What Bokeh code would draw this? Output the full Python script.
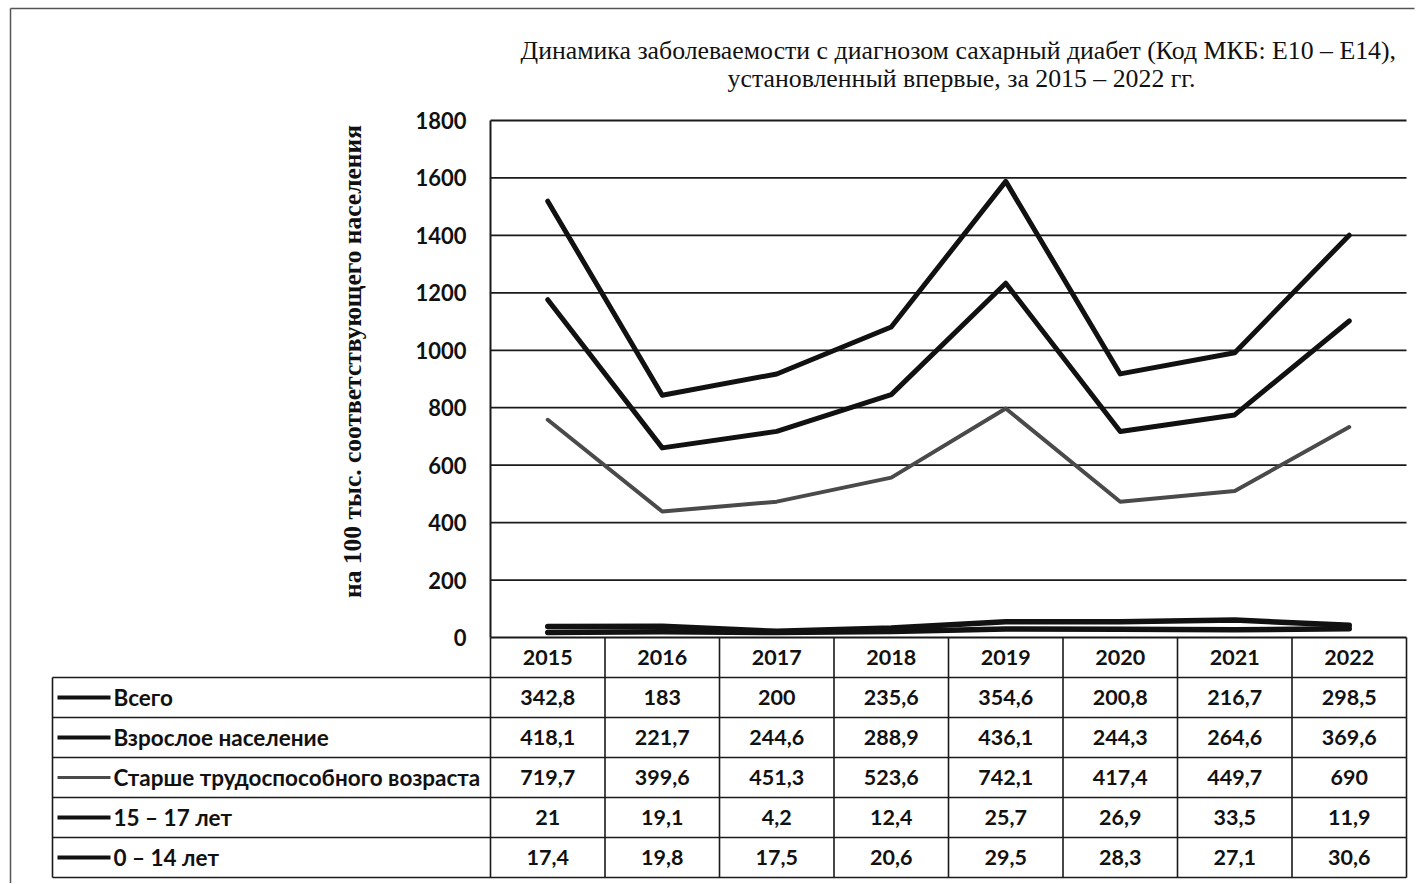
import numpy as np
from bokeh.plotting import figure
from bokeh.models import Range1d, LinearAxis, FixedTicker
from bokeh.core.properties import value
from bokeh.embed import file_html
from bokeh.resources import INLINE

# ---------------- data ----------------
years = ["2015", "2016", "2017", "2018", "2019", "2020", "2021", "2022"]
series_names = ["Всего", "Взрослое население", "Старше трудоспособного возраста",
                "15 – 17 лет", "0 – 14 лет"]
vsego = [342.8, 183, 200, 235.6, 354.6, 200.8, 216.7, 298.5]
vzrosloe = [418.1, 221.7, 244.6, 288.9, 436.1, 244.3, 264.6, 369.6]
starshe = [719.7, 399.6, 451.3, 523.6, 742.1, 417.4, 449.7, 690]
age_15_17 = [21, 19.1, 4.2, 12.4, 25.7, 26.9, 33.5, 11.9]
age_0_14 = [17.4, 19.8, 17.5, 20.6, 29.5, 28.3, 27.1, 30.6]
y_ticks = [0, 200, 400, 600, 800, 1000, 1200, 1400, 1600, 1800]
title_lines = ["Динамика заболеваемости с диагнозом сахарный диабет  (Код МКБ: E10 – E14),",
               "установленный впервые, за 2015 – 2022 гг."]
y_label = "на 100 тыс. соответствующего населения"

table_values = [vsego, vzrosloe, starshe, age_15_17, age_0_14]

# ---------------- layout helpers (pixel -> data) ----------------
W, H = 1416, 883
PX0 = 490.0          # x of the value axis
COLW = 114.5         # width of one year column
ORIGIN_Y = 637.0     # y pixel of value 0
K = 517.0 / 1800.0   # pixels per value unit
ROWH = 40.0


def ux(x):
    return (x - PX0) / COLW


def vy(y):
    return (ORIGIN_Y - y) / K


p = figure(width=W, height=H, output_backend="svg", toolbar_location=None,
           x_range=Range1d(ux(0), ux(W)), y_range=Range1d(vy(H), vy(0)),
           x_axis_type=None, y_axis_type=None, min_border=0,
           outline_line_color=None, background_fill_color="white",
           border_fill_color="white")

ncol = len(years)
xc = np.arange(ncol) + 0.5

# outer chart border
p.segment(x0=[ux(10), ux(10)], y0=[vy(8), vy(8)], x1=[ux(10), ux(1414)], y1=[vy(H), vy(8)],
          line_color="#555555", line_width=1.5)

# horizontal grid lines
p.segment(x0=[0] * len(y_ticks), x1=[ncol] * len(y_ticks), y0=y_ticks, y1=y_ticks,
          line_color="#1a1a1a", line_width=1.8)

# value axis
yax = LinearAxis(fixed_location=0, bounds=(0, 1800), ticker=FixedTicker(ticks=y_ticks),
                 axis_line_color="#1a1a1a", axis_line_width=2,
                 major_tick_line_color=None, minor_tick_line_color=None,
                 major_tick_out=0, major_tick_in=0, major_label_standoff=24,
                 major_label_text_font="Lato", major_label_text_font_size="22px",
                 major_label_text_font_style="bold", major_label_text_color="#111111")
p.add_layout(yax, "left")

# axis title
p.text(x=[ux(352)], y=[vy(361)], text=[y_label], angle=np.pi / 2,
       text_font=value("Liberation Serif"), text_font_size="25.5px", text_font_style="bold",
       text_align="center", text_baseline="middle", text_color="#111111")

# chart title
p.text(x=[ux(961)] * 2, y=[vy(50), vy(78)], text=title_lines,
       text_font=value("Liberation Serif"), text_font_size="25.8px",
       text_align="center", text_baseline="middle", text_color="#111111")

# stacked lines (0-14 at bottom, then 15-17, older, adults, total)
stack_order = [age_0_14, age_15_17, starshe, vzrosloe, vsego]
cum = np.cumsum(np.array(stack_order, dtype=float), axis=0)
styles = [("#111111", 5.5), ("#111111", 5.5), ("#4a4a4a", 4), ("#111111", 5), ("#111111", 5)]
for vals, (col, lw) in zip(cum, styles):
    p.line(x=xc, y=vals, line_color=col, line_width=lw, line_join="round", line_cap="round")

# ---------------- data table ----------------
R = ROWH / K
nrows = len(series_names)
tbl_left = ux(52)
bottom = -(nrows + 1) * R
# horizontal borders
hy = [-(i + 1) * R for i in range(nrows + 1)]
p.segment(x0=[tbl_left] * len(hy), x1=[ncol] * len(hy), y0=hy, y1=hy,
          line_color="#1a1a1a", line_width=1.6)
# vertical borders
vx = list(range(0, ncol + 1))
p.segment(x0=vx, x1=vx, y0=[0] * len(vx), y1=[bottom] * len(vx),
          line_color="#1a1a1a", line_width=1.6)
p.segment(x0=[tbl_left], x1=[tbl_left], y0=[-R], y1=[bottom],
          line_color="#1a1a1a", line_width=1.6)

TFONT = value("Lato")
NSIZE = "21.5px"
LSIZE = "22.5px"
# header (years)
p.text(x=xc, y=[-R / 2] * ncol, text=years, text_font=TFONT, text_font_size=NSIZE,
       text_font_style="bold", text_align="center", text_baseline="middle", text_color="#111111")

key_colors = ["#111111", "#111111", "#4a4a4a", "#111111", "#111111"]
key_widths = [4, 4, 3, 4, 4]
for i, (name, vals) in enumerate(zip(series_names, table_values)):
    yc = -(i + 1.5) * R
    labels = [f"{v:g}".replace(".", ",") for v in vals]
    p.text(x=xc, y=[yc] * ncol, text=labels, text_font=TFONT, text_font_size=NSIZE,
           text_font_style="bold", text_align="center", text_baseline="middle",
           text_color="#111111")
    p.text(x=[ux(113)], y=[yc], text=[name], text_font=TFONT, text_font_size=LSIZE,
           text_font_style="bold", text_align="left", text_baseline="middle",
           text_color="#111111")
    p.segment(x0=[ux(57)], x1=[ux(110)], y0=[yc], y1=[yc], line_color=key_colors[i],
              line_width=key_widths[i])

open("out.html", "w").write(file_html(p, INLINE))
